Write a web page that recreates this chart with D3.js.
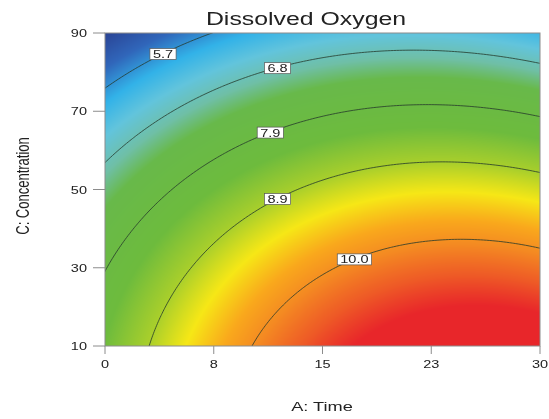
<!DOCTYPE html>
<html><head><meta charset="utf-8">
<script src="https://cdn.jsdelivr.net/npm/d3@7"></script>
<style>
body{margin:0;background:#fff}
#wrap{position:relative;width:549px;height:419px}
canvas,svg{position:absolute;left:0;top:0}
text{font-family:"Liberation Sans",Arial,sans-serif;fill:#222}
</style>
</head><body><div id="wrap"><canvas id="heat" width="549" height="419"></canvas><svg id="chart" width="549" height="419"></svg></div>
<script>
// Response surface for dissolved oxygen, quadratic model in coded factors
// a = (Time - 15) / 15, c = (Concentration - 50) / 40
const modelTerms = ["Intercept", "A", "C", "AC", "A^2", "C^2"];
const modelCoefficients = [9.02255, 1.00802, -2.13171, -0.31874, -0.87864, -0.62410];

const timeRange = [0, 30];
const concRange = [10, 90];
const timeTickValues = [0, 7.5, 15, 22.5, 30];
const timeTickLabels = ["0", "8", "15", "23", "30"];
const concTickValues = [10, 30, 50, 70, 90];
const concTickLabels = ["10", "30", "50", "70", "90"];

const contourLevels = [5.7, 6.8, 7.9, 8.9, 10.0];
const contourLabelText = ["5.7", "6.8", "7.9", "8.9", "10.0"];
const contourLabelTime = [4.0, 11.9, 11.4, 11.9, 17.2];

// colour ramp (response value -> colour)
const rampValues = [4.7, 5.35, 5.95, 6.45, 6.95, 7.35, 8.3, 8.9, 9.35, 9.75, 10.05, 10.4, 10.7];
const rampColors = ["#2a4394", "#3066ba", "#32b2e8", "#62c4dc", "#6fbfa6", "#68b94a",
                    "#6dbb3d", "#a9cf2b", "#f6e716", "#f9a81c", "#f48a22", "#ee5a26", "#e8262a"];

function response(A, C) {
  const a = (A - 15) / 15, c = (C - 50) / 40;
  const terms = [1, a, c, a * c, a * a, c * c];
  let s = 0;
  for (let i = 0; i < terms.length; i++) s += terms[i] * modelCoefficients[i];
  return s;
}

const plot = {left: 105, right: 540, top: 33, bottom: 346};
const x = d3.scaleLinear().domain(timeRange).range([plot.left, plot.right]);
const y = d3.scaleLinear().domain(concRange).range([plot.bottom, plot.top]);
const color = d3.scaleLinear().domain(rampValues).range(rampColors)
  .interpolate(d3.interpolateRgb).clamp(true);

// shaded surface
const ctx = document.getElementById("heat").getContext("2d");
const pw = plot.right - plot.left, ph = plot.bottom - plot.top;
const img = ctx.createImageData(pw, ph);
for (let j = 0; j < ph; j++) {
  const C = y.invert(plot.top + j + 0.5);
  for (let i = 0; i < pw; i++) {
    const A = x.invert(plot.left + i + 0.5);
    const col = d3.rgb(color(response(A, C)));
    const k = (j * pw + i) * 4;
    img.data[k] = col.r; img.data[k + 1] = col.g; img.data[k + 2] = col.b; img.data[k + 3] = 255;
  }
}
ctx.putImageData(img, plot.left, plot.top);

const svg = d3.select("#chart");
svg.append("defs").append("clipPath").attr("id", "plotClip")
  .append("rect").attr("x", plot.left).attr("y", plot.top).attr("width", pw).attr("height", ph);

// contour lines from a sampled grid that extends past the plot edges
const gA0 = -3, gA1 = 33, gC0 = 2, gC1 = 98, nx = 181, ny = 193;
const grid = new Array(nx * ny);
for (let j = 0; j < ny; j++) {
  const C = gC0 + (gC1 - gC0) * j / (ny - 1);
  for (let i = 0; i < nx; i++) {
    const A = gA0 + (gA1 - gA0) * i / (nx - 1);
    grid[j * nx + i] = response(A, C);
  }
}
const contours = d3.contours().size([nx, ny]).thresholds(contourLevels).smooth(true)(grid);
const proj = d3.geoTransform({
  point: function(px, py) {
    this.stream.point(x(gA0 + (gA1 - gA0) * px / (nx - 1)), y(gC0 + (gC1 - gC0) * py / (ny - 1)));
  }
});
const path = d3.geoPath(proj);
svg.append("g").attr("clip-path", "url(#plotClip)")
  .selectAll("path").data(contours).join("path")
  .attr("d", path).attr("fill", "none").attr("stroke", "#263a2c").attr("stroke-width", 0.8);

// frame
svg.append("rect").attr("x", plot.left).attr("y", plot.top).attr("width", pw).attr("height", ph)
  .attr("fill", "none").attr("stroke", "#8c8c8c").attr("stroke-width", 1);

const stretch = 1.32;

// x axis
const xt = svg.append("g");
timeTickValues.forEach((v, i) => {
  xt.append("line").attr("x1", x(v)).attr("x2", x(v)).attr("y1", plot.bottom).attr("y2", plot.bottom + 8)
    .attr("stroke", "#8c8c8c");
  xt.append("text").attr("transform", `translate(${x(v)},${plot.bottom + 22}) scale(${stretch},1)`)
    .attr("text-anchor", "middle").attr("font-size", 11).text(timeTickLabels[i]);
});
// y axis
const yt = svg.append("g");
concTickValues.forEach((v, i) => {
  yt.append("line").attr("x1", plot.left - 12).attr("x2", plot.left).attr("y1", y(v)).attr("y2", y(v))
    .attr("stroke", "#8c8c8c");
  yt.append("text").attr("transform", `translate(${plot.left - 18},${y(v) + 4}) scale(${stretch},1)`)
    .attr("text-anchor", "end").attr("font-size", 11).text(concTickLabels[i]);
});

// contour labels, centred on their line
function concAt(A, v) {
  let lo = concRange[0], hi = concRange[1];
  for (let k = 0; k < 50; k++) {
    const m = (lo + hi) / 2;
    if (response(A, m) > v) lo = m; else hi = m;
  }
  return (lo + hi) / 2;
}
contourLevels.forEach((v, i) => {
  const A = contourLabelTime[i], C = concAt(A, v);
  const cx = x(A), cy = y(C);
  const g = svg.append("g");
  const r = g.append("rect");
  const t = g.append("text").attr("transform", `translate(${cx},${cy + 4}) scale(${stretch},1)`)
    .attr("text-anchor", "middle").attr("font-size", 11).attr("fill", "#1a1a1a").text(contourLabelText[i]);
  const bw = t.node().getBBox().width * stretch + 6;
  r.attr("x", cx - bw / 2).attr("y", cy - 5.5).attr("width", bw).attr("height", 11)
    .attr("fill", "#fff").attr("stroke", "#555").attr("stroke-width", 0.7);
});

// titles
svg.append("text").attr("transform", `translate(306,25) scale(1.38,1)`)
  .attr("text-anchor", "middle").attr("font-size", 18).attr("fill", "#111").text("Dissolved Oxygen");
svg.append("text").attr("transform", `translate(322,411) scale(1.4,1)`)
  .attr("text-anchor", "middle").attr("font-size", 13).text("A: Time");
svg.append("text").attr("transform", `translate(29,186) rotate(-90) scale(1,1.38)`)
  .attr("text-anchor", "middle").attr("font-size", 13).text("C: Concentration");
</script></body></html>
